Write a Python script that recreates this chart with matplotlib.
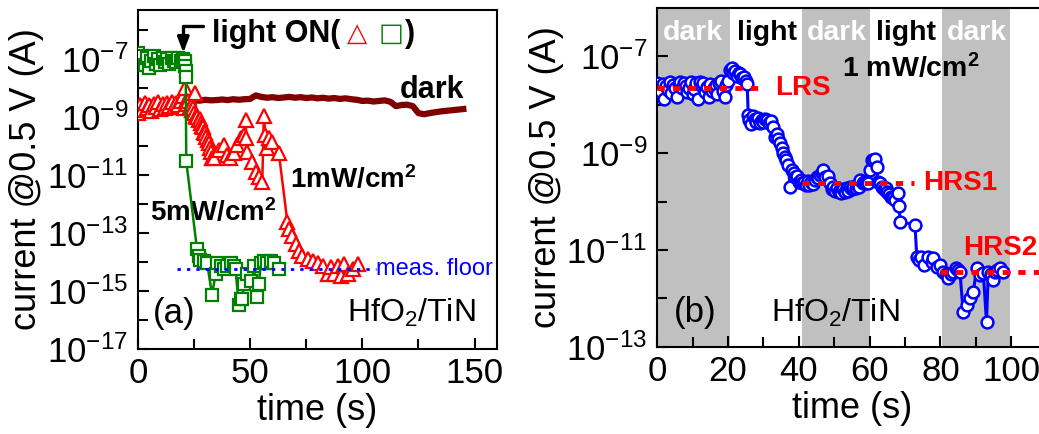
"""
Photocurrent decay of HfO2/TiN cells: (a) response to light at two intensities,
(b) stepwise resistance change under alternating dark/light periods.
"""
import numpy as np
import matplotlib
matplotlib.use('Agg')
import matplotlib.pyplot as plt
import matplotlib.transforms as mtransforms
from matplotlib.ticker import FixedLocator, FuncFormatter, NullFormatter

plt.rcParams['font.family'] = 'Liberation Sans'
plt.rcParams['mathtext.fontset'] = 'custom'
plt.rcParams['mathtext.rm'] = 'Liberation Sans'
plt.rcParams['mathtext.it'] = 'Liberation Sans:italic'
plt.rcParams['mathtext.bf'] = 'Liberation Sans:bold'
plt.rcParams['axes.unicode_minus'] = False

# ---- panel (a) data: log10 of current (A) vs time (s) ----
dark_t = [0, 2.5, 5, 7.5, 10, 12.5, 15, 17.5, 20, 22.5, 25, 27.5, 30, 32.5, 35, 37.5,
          40, 42.5, 45, 47.5, 50, 52.5, 55, 57.5, 60, 62.5, 65, 67.5, 70, 72.5, 75,
          77.5, 80, 82.5, 85, 87.5, 90, 92.5, 95, 97.5, 100, 102.5, 105, 107.5, 110,
          112.5, 115, 117.5, 120, 122.5, 125, 127.5, 130, 132.5, 135, 137.5, 140,
          142.5, 145]
dark_logI = [-8.50, -8.48, -8.52, -8.47, -8.50, -8.46, -8.49, -8.45, -8.47, -8.44,
             -8.42, -8.43, -8.40, -8.42, -8.41, -8.39, -8.41, -8.38, -8.40, -8.38,
             -8.37, -8.25, -8.30, -8.33, -8.31, -8.34, -8.32, -8.30, -8.33, -8.31,
             -8.34, -8.32, -8.35, -8.33, -8.36, -8.34, -8.37, -8.35, -8.38, -8.40,
             -8.44, -8.43, -8.46, -8.44, -8.42, -8.47, -8.62, -8.58, -8.57, -8.62,
             -8.86, -8.90, -8.86, -8.83, -8.80, -8.78, -8.76, -8.74, -8.72]

red_t = [0, 1, 2, 3, 4, 5, 6, 7, 8, 9, 10, 11, 12, 13, 14, 15, 16, 17, 18, 19, 20,
         20.3, 21, 21.5, 22, 22.5, 23, 23.5, 24, 24.5, 25, 25.5, 26, 26.5, 27, 27.5,
         28, 28.5, 29, 29.5, 30, 30.5, 31, 31.5, 32, 32.5, 33, 33.7, 36.0, 38.2,
         39.7, 41.2, 42.7, 44.2, 45.7, 47.2, 48.0, 48.3, 48.7, 51.0, 52.4, 53.9,
         55.4, 56.1, 56.8, 57.6, 58.3, 59.8, 62.8, 66.6, 67.3, 68.8, 70.3, 71.8,
         73.3, 75.6, 77.8, 80.1, 82.3, 84.6, 86.0, 87.5, 89.0, 90.5, 92.0, 93.5,
         95.7, 97.9]
red_logI = [-8.85, -8.58, -8.74, -8.51, -8.70, -8.57, -8.80, -8.54, -8.66, -8.48,
            -8.72, -8.55, -8.68, -8.52, -8.62, -8.47, -8.66, -8.51, -8.59, -8.44,
            -8.26, -8.68, -7.99, -8.45, -8.55, -8.45, -8.65, -8.60, -8.75, -8.70,
            -8.85, -8.16, -8.95, -9.00, -9.10, -9.05, -9.20, -9.30, -9.35, -9.50,
            -9.55, -9.70, -9.80, -9.90, -10.05, -10.20, -10.40, -10.42, -10.13,
            -9.96, -10.30, -10.42, -10.25, -9.96, -9.73, -9.61, -9.09, -9.73,
            -10.20, -10.54, -10.88, -11.06, -11.23, -8.97, -9.61, -10.07, -9.73,
            -9.84, -10.25, -12.62, -12.86, -13.10, -13.39, -13.62, -13.79, -13.91,
            -13.97, -14.03, -14.14, -14.42, -14.18, -14.42, -14.14, -14.48, -14.07,
            -14.42, -14.25, -14.07]

green_t = [0, 1, 2, 3, 4, 5, 6, 7, 8, 9, 10, 11, 12, 13, 14, 15, 16, 17, 18, 19, 20,
           21.0, 21.1, 21.2, 21.3, 21.5, 26.3, 27.0, 27.8, 29.3, 30.8, 33.0, 34.6,
           35.3, 36.8, 38.3, 39.8, 41.3, 42.7, 43.5, 44.9, 45.7, 46.4, 47.2, 48.7,
           50.2, 51.7, 53.2, 53.9, 54.7, 56.1, 57.6, 59.1, 60.6, 62.8]
green_logI = [-6.80, -7.10, -6.90, -7.20, -6.95, -7.30, -7.05, -6.90, -7.15, -7.00,
              -7.20, -6.95, -7.10, -7.00, -7.15, -6.95, -7.05, -7.10, -6.95, -7.05,
              -7.00, -7.06, -7.23, -7.41, -7.60, -10.51, -13.55, -13.78, -13.92,
              -13.97, -14.03, -15.12, -14.42, -14.03, -14.14, -14.25, -14.14, -14.03,
              -14.14, -14.25, -15.47, -15.29, -15.26, -14.77, -14.42, -14.65, -14.14,
              -15.20, -14.77, -14.03, -13.97, -14.03, -13.97, -14.03, -14.25]

floor_t = [17.3, 106]
floor_logI = -14.25

# ---- panel (b) data ----
blue_t = [0, 0.5, 1, 1.5, 2, 2.5, 3, 3.5, 4, 4.5, 5, 5.5, 6, 6.5, 7, 7.5, 8, 8.5, 9,
          9.5, 10, 10.5, 11, 11.5, 12, 12.5, 13, 13.5, 14, 14.5, 15, 15.5, 16, 16.5,
          17, 17.5, 18, 18.5, 19, 19.5, 20,
          20.5, 21, 21.5, 22, 22.5, 23, 23.5, 24, 24.5, 25, 25.4,
          25.7, 26.0, 26.5, 26.9, 27.5, 28, 28.5, 29, 29.5, 30, 30.5, 30.9, 31.5, 32,
          32.8, 33.3, 33.8, 34.2, 34.7, 35.2, 35.6, 36.1, 36.5, 37, 37.5, 38, 38.5,
          39, 39.4, 40, 40.5, 41, 41.5, 42, 42.5, 43, 43.5, 44, 44.5, 45, 45.5, 46,
          46.5, 46.9, 47.5, 48.3, 48.8, 49.3, 49.7, 50.2, 50.7, 51.2, 51.6, 52, 52.5,
          53, 53.5, 54, 54.5, 55, 55.4, 56, 56.5, 57, 57.3, 58, 58.5, 59.1, 59.6,
          60.1, 60.6, 61, 61.5, 62, 62.3,
          63, 63.5, 64, 64.5, 65, 65.5, 65.9, 66.5, 67.2, 68.1, 68.3, 68.6, 72.8,
          73.3, 74, 74.5, 75.3, 76.5, 77.5, 78.0, 78.9, 80, 80.8, 81.5, 82.2, 83,
          83.5, 84.4, 85, 85.5, 86.4, 87.4, 88.3, 89.3, 90.2, 91.1, 92.1, 93.0, 93.5,
          94.2, 94.9, 95.3, 96, 96.8, 97.7]
blue_logI = [-7.55, -7.68, -7.74, -7.58, -7.88, -7.62, -7.70, -7.52, -7.76, -7.60,
             -7.66, -7.84, -7.58, -7.52, -7.66, -7.56, -7.62, -7.74, -7.66, -7.54,
             -7.78, -7.68, -7.56, -7.88, -7.52, -7.62, -7.56, -7.74, -7.64, -7.84,
             -7.58, -7.72, -7.66, -7.60, -7.78, -7.56, -7.50, -7.72, -7.84, -7.60,
             -7.50,
             -7.28, -7.24, -7.34, -7.30, -7.40, -7.35, -7.37, -7.45, -7.42, -7.50,
             -7.58,
             -8.21, -8.31, -8.40, -8.24, -8.30, -8.35, -8.28, -8.38, -8.32, -8.36,
             -8.30, -8.31, -8.38, -8.34, -8.45, -8.66, -8.60, -8.70, -8.79, -8.90,
             -9.00, -9.08, -9.14, -9.25, -9.69, -9.35, -9.42, -9.50, -9.48, -9.60,
             -9.55, -9.62, -9.60, -9.65, -9.58, -9.66, -9.60, -9.64, -9.55, -9.50,
             -9.52, -9.45, -9.42, -9.35, -9.50, -9.48, -9.62, -9.75, -9.69, -9.78,
             -9.72, -9.80, -9.76, -9.82, -9.75, -9.80, -9.72, -9.78, -9.70, -9.74,
             -9.69, -9.72, -9.66, -9.70, -9.55, -9.62, -9.60, -9.62, -9.62, -9.35,
             -9.14, -9.14, -9.12, -9.28, -9.60,
             -9.62, -9.70, -9.75, -9.72, -9.80, -9.85, -9.90, -9.92, -9.97, -9.83,
             -10.10, -10.42, -10.48, -11.14, -11.20, -11.15, -11.31, -11.15, -11.25,
             -11.17, -11.35, -11.32, -11.45, -11.50, -11.59, -11.50, -11.45, -11.38,
             -11.42, -11.45, -12.28, -12.14, -12.00, -11.86, -11.38, -11.52, -11.48,
             -12.49, -11.46, -11.50, -11.62, -11.45, -11.42, -11.38, -11.45]

dark_spans = [(0, 20.5), (41, 60), (80.5, 99.5)]
period_labels = ['dark', 'light', 'dark', 'light', 'dark']
period_centers = [10, 31, 50.7, 70.3, 90.3]

lrs_t, lrs_logI = [0, 30], -7.66
hrs1_t, hrs1_logI = [41, 72.5], -9.62
hrs2_t, hrs2_logI = [80, 112], -11.45

BLUE = '#0000ff'
RED = '#ff0000'
GREEN = '#008000'
MAROON = '#800000'


def pow10_label(v, pos):
    return r'$10^{%d}$' % int(round(np.log10(v)))


def style_axes(ax, major_exp, minor_exp, xmajor, xminor):
    ax.set_yscale('log')
    ax.yaxis.set_major_locator(FixedLocator([10.0 ** e for e in major_exp]))
    ax.yaxis.set_minor_locator(FixedLocator([10.0 ** e for e in minor_exp]))
    ax.yaxis.set_major_formatter(FuncFormatter(pow10_label))
    ax.yaxis.set_minor_formatter(NullFormatter())
    ax.xaxis.set_major_locator(FixedLocator(xmajor))
    ax.xaxis.set_minor_locator(FixedLocator(xminor))
    ax.tick_params(which='both', direction='in', width=1.5, labelsize=25,
                   top=False, right=False)
    ax.tick_params(which='major', length=8)
    ax.tick_params(which='minor', length=7)
    ax.tick_params(axis='y', pad=7)
    ax.tick_params(axis='x', pad=6)
    for sp in ax.spines.values():
        sp.set_linewidth(1.5)
    ax.set_xlabel('time (s)', fontsize=26, labelpad=2)
    ax.set_ylabel('current @0.5 V (A)', fontsize=26, labelpad=2)


fig = plt.figure(figsize=(10.39, 4.34), dpi=100)
axa = fig.add_axes([0.1328, 0.1959, 0.3455, 0.7811])
axb = fig.add_axes([0.6326, 0.2012, 0.3748, 0.7804])

# ---------------- (a) ----------------
axa.plot(dark_t, 10.0 ** np.array(dark_logI), color=MAROON, lw=4.5,
         solid_joinstyle='round', zorder=2)
axa.plot(red_t, 10.0 ** np.array(red_logI), '-^', color=RED, lw=1.8, ms=9.5,
         mfc='white', mec=RED, mew=1.6, zorder=3)
axa.plot(green_t, 10.0 ** np.array(green_logI), '-s', color=GREEN, lw=1.8, ms=8.5,
         mfc='white', mec=GREEN, mew=1.6, zorder=4)
axa.plot(floor_t, [10.0 ** floor_logI] * 2, color=BLUE, lw=2,
         ls=(0, (1.2, 2.2)), zorder=5)

axa.set_xlim(0, 160)
axa.set_ylim(1e-17, 5e-6)
style_axes(axa, range(-17, -6, 2), range(-16, -5, 2), [0, 50, 100, 150], [25, 75, 125])

# light-on arrow: short bar from the label, then down to the switch-on time
axa.annotate('', xy=(20.2, 10 ** -6.78), xytext=(29.1, 10 ** -5.84),
             arrowprops=dict(arrowstyle='-|>,head_length=0.45,head_width=0.17',
                             color='k', lw=2.4, mutation_scale=20,
                             shrinkA=0, shrinkB=0,
                             connectionstyle='angle,angleA=180,angleB=90,rad=0'),
             zorder=6)
axa.text(0.205, 0.929, 'light ON(', transform=axa.transAxes, fontsize=22,
         fontweight='bold', ha='left', va='center')
axa.text(0.61, 0.929, '\u25b3', transform=axa.transAxes, fontsize=19, color=RED,
         fontweight='bold', family=['DejaVu Sans'], ha='center', va='center')
axa.text(0.705, 0.929, '\u25a1', transform=axa.transAxes, fontsize=19, color=GREEN,
         fontweight='bold', family=['DejaVu Sans'], ha='center', va='center')
axa.text(0.745, 0.929, ')', transform=axa.transAxes, fontsize=22,
         fontweight='bold', ha='left', va='center')

axa.text(0.82, 0.764, 'dark', transform=axa.transAxes, fontsize=22,
         fontweight='bold', ha='center', va='center')
axa.text(0.423, 0.4985, r'1mW/cm$^\mathbf{2}$', transform=axa.transAxes, fontsize=20,
         fontweight='bold', ha='left', va='center')
axa.text(0.033, 0.401, r'5mW/cm$^\mathbf{2}$', transform=axa.transAxes, fontsize=20,
         fontweight='bold', ha='left', va='center')
axa.text(106, 10.0 ** floor_logI, 'meas. floor', color=BLUE, fontsize=17,
         ha='left', va='center')
axa.text(0.10, 0.106, '(a)', transform=axa.transAxes, fontsize=25,
         ha='center', va='center')
axa.text(0.762, 0.106, r'HfO$_2$/TiN', transform=axa.transAxes, fontsize=23,
         ha='center', va='center')

# ---------------- (b) ----------------
for x0, x1 in dark_spans:
    axb.axvspan(x0, x1, color='#c0c0c0', lw=0, zorder=0)

axb.plot(blue_t, 10.0 ** np.array(blue_logI), '-o', color=BLUE, lw=2.2, ms=8.5,
         mfc='white', mec=BLUE, mew=1.8, zorder=3)

for lt, lv in [(lrs_t, lrs_logI), (hrs1_t, hrs1_logI), (hrs2_t, hrs2_logI)]:
    axb.plot(lt, [10.0 ** lv] * 2, color=RED, lw=3.5, ls=(0, (1.5, 1.7)), zorder=4)

axb.text(33.2, 10.0 ** lrs_logI, 'LRS', color=RED, fontsize=20, fontweight='bold',
         ha='left', va='center')
axb.text(75, 10.0 ** hrs1_logI, 'HRS1', color=RED, fontsize=20, fontweight='bold',
         ha='left', va='center')
axb.text(86.4, 10.0 ** -10.97, 'HRS2', color=RED, fontsize=20, fontweight='bold',
         ha='left', va='center')

axb.set_xlim(0, 110)
axb.set_ylim(1e-13, 1e-6)
style_axes(axb, range(-13, -6, 2), range(-12, -7, 2),
           [0, 20, 40, 60, 80, 100], [10, 30, 50, 70, 90])

blend = mtransforms.blended_transform_factory(axb.transData, axb.transAxes)
for lab, xc in zip(period_labels, period_centers):
    axb.text(xc, 0.925, lab, transform=blend, fontsize=20.5, fontweight='bold',
             color='white' if lab == 'dark' else 'black', ha='center', va='center')
axb.text(71.5, 0.822, r'1 mW/cm$^\mathbf{2}$', transform=blend, fontsize=20.5,
         fontweight='bold', ha='center', va='center')
axb.text(10.7, 0.10, '(b)', transform=blend, fontsize=25, ha='center', va='center')
axb.text(50.2, 0.10, r'HfO$_2$/TiN', transform=blend, fontsize=23,
         ha='center', va='center')

fig.savefig('out.png', dpi=100)
